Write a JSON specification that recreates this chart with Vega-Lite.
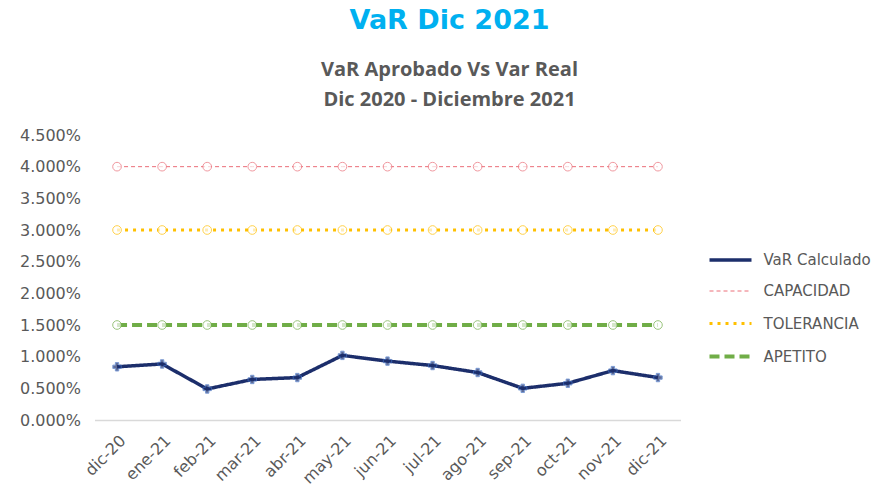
{
  "$schema": "https://vega.github.io/schema/vega-lite/v6.json",
  "autosize": {"type": "none"},
  "width": 586,
  "height": 285,
  "padding": {"left": 94.5, "top": 135, "right": 198.5, "bottom": 80},
  "background": "white",
  "config": {"view": {"stroke": null}},
  "title": {
    "text": "VaR Dic 2021",
    "subtitle": ["VaR Aprobado  Vs Var Real", "Dic 2020 - Diciembre 2021"],
    "anchor": "middle",
    "frame": "group",
    "dx": 62,
    "offset": 16,
    "font": "DejaVu Sans",
    "fontSize": 27,
    "fontWeight": "bold",
    "color": "#00B0F0",
    "subtitleFont": "Open Sans",
    "subtitleFontSize": 20,
    "subtitleFontWeight": "bold",
    "subtitleColor": "#595959",
    "subtitleLineHeight": 30,
    "subtitlePadding": 25
  },
  "data": {
    "values": [
      {"mes": "dic-20", "VaR Calculado": 0.0084, "CAPACIDAD": 0.04, "TOLERANCIA": 0.03, "APETITO": 0.015},
      {"mes": "ene-21", "VaR Calculado": 0.00885, "CAPACIDAD": 0.04, "TOLERANCIA": 0.03, "APETITO": 0.015},
      {"mes": "feb-21", "VaR Calculado": 0.0049, "CAPACIDAD": 0.04, "TOLERANCIA": 0.03, "APETITO": 0.015},
      {"mes": "mar-21", "VaR Calculado": 0.0064, "CAPACIDAD": 0.04, "TOLERANCIA": 0.03, "APETITO": 0.015},
      {"mes": "abr-21", "VaR Calculado": 0.0067, "CAPACIDAD": 0.04, "TOLERANCIA": 0.03, "APETITO": 0.015},
      {"mes": "may-21", "VaR Calculado": 0.0102, "CAPACIDAD": 0.04, "TOLERANCIA": 0.03, "APETITO": 0.015},
      {"mes": "jun-21", "VaR Calculado": 0.0093, "CAPACIDAD": 0.04, "TOLERANCIA": 0.03, "APETITO": 0.015},
      {"mes": "jul-21", "VaR Calculado": 0.0086, "CAPACIDAD": 0.04, "TOLERANCIA": 0.03, "APETITO": 0.015},
      {"mes": "ago-21", "VaR Calculado": 0.0075, "CAPACIDAD": 0.04, "TOLERANCIA": 0.03, "APETITO": 0.015},
      {"mes": "sep-21", "VaR Calculado": 0.0050, "CAPACIDAD": 0.04, "TOLERANCIA": 0.03, "APETITO": 0.015},
      {"mes": "oct-21", "VaR Calculado": 0.0058, "CAPACIDAD": 0.04, "TOLERANCIA": 0.03, "APETITO": 0.015},
      {"mes": "nov-21", "VaR Calculado": 0.0078, "CAPACIDAD": 0.04, "TOLERANCIA": 0.03, "APETITO": 0.015},
      {"mes": "dic-21", "VaR Calculado": 0.0067, "CAPACIDAD": 0.04, "TOLERANCIA": 0.03, "APETITO": 0.015}
    ]
  },
  "transform": [
    {"fold": ["VaR Calculado", "CAPACIDAD", "TOLERANCIA", "APETITO"], "as": ["serie", "valor"]}
  ],
  "encoding": {
    "x": {
      "field": "mes",
      "type": "ordinal",
      "sort": ["dic-20","ene-21","feb-21","mar-21","abr-21","may-21","jun-21","jul-21","ago-21","sep-21","oct-21","nov-21","dic-21"],
      "scale": {"type": "point", "padding": 0.5},
      "axis": {
        "title": null,
        "labelAngle": -45,
        "labelFont": "DejaVu Sans",
        "labelFontSize": 16,
        "labelColor": "#595959",
        "labelPadding": 12,
        "ticks": false,
        "domainColor": "#D9D9D9",
        "domainWidth": 1.5,
        "grid": false
      }
    },
    "y": {
      "field": "valor",
      "type": "quantitative",
      "scale": {"domain": [0, 0.045], "nice": false},
      "axis": {
        "title": null,
        "values": [0, 0.005, 0.01, 0.015, 0.02, 0.025, 0.03, 0.035, 0.04, 0.045],
        "format": ".3%",
        "labelFont": "DejaVu Sans",
        "labelFontSize": 16,
        "labelColor": "#595959",
        "labelPadding": 14,
        "ticks": false,
        "domain": false,
        "grid": false
      }
    }
  },
  "layer": [
    {
      "mark": {"type": "line", "strokeCap": "butt"},
      "encoding": {
        "color": {
          "field": "serie",
          "type": "nominal",
          "scale": {
            "domain": ["VaR Calculado", "CAPACIDAD", "TOLERANCIA", "APETITO"],
            "range": ["#1C2E6B", "#EB6E78", "#FFC000", "#70AD47"]
          },
          "legend": {
            "title": null,
            "orient": "none",
            "legendX": 613,
            "legendY": 102,
            "symbolType": "stroke",
            "symbolSize": 1764,
            "labelFont": "DejaVu Sans",
            "labelFontSize": 15,
            "labelColor": "#595959",
            "labelOffset": 10,
            "rowPadding": 1.5
          }
        },
        "strokeDash": {
          "field": "serie",
          "type": "nominal",
          "scale": {
            "domain": ["VaR Calculado", "CAPACIDAD", "TOLERANCIA", "APETITO"],
            "range": [[1, 0], [4, 3], [3, 5], [10, 5]]
          }
        },
        "strokeWidth": {
          "field": "serie",
          "type": "nominal",
          "scale": {
            "type": "ordinal",
            "domain": ["VaR Calculado", "CAPACIDAD", "TOLERANCIA", "APETITO"],
            "range": [3.5, 1, 3, 4]
          }
        }
      }
    },
    {
      "transform": [{"filter": "datum.serie !== 'VaR Calculado'"}],
      "mark": {"type": "point", "shape": "circle", "filled": false, "fill": "white", "size": 75, "strokeWidth": 1},
      "encoding": {
        "color": {"field": "serie", "type": "nominal", "legend": null}
      }
    },
    {
      "transform": [{"filter": "datum.serie === 'VaR Calculado'"}],
      "mark": {"type": "point", "shape": "cross", "filled": true, "size": 70, "color": "#1C2E6B", "stroke": "#4472C4", "strokeWidth": 1}
    }
  ]
}
